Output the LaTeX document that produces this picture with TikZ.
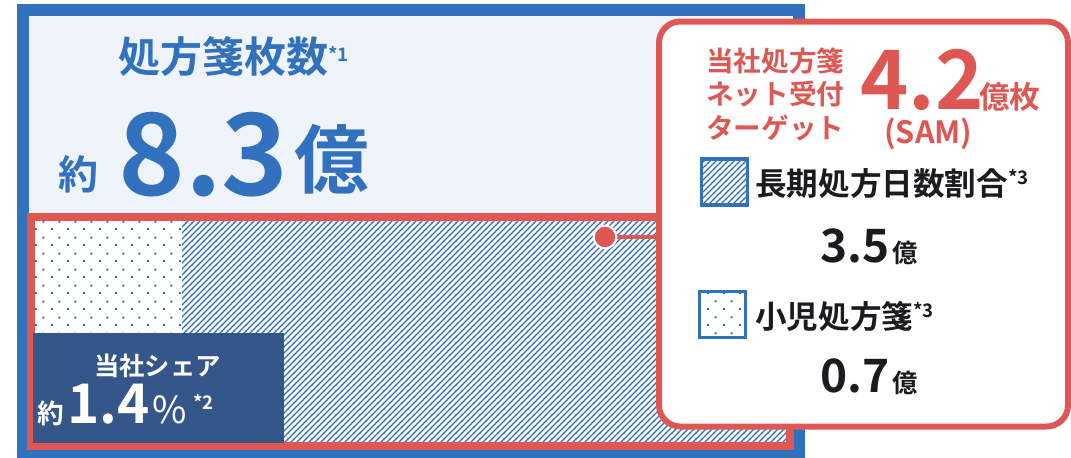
\documentclass[tikz,border=0pt]{standalone}
\usepackage{fontspec}
\setmainfont{Noto Sans CJK JP}[BoldFont={Noto Sans CJK JP Bold}]
\usetikzlibrary{patterns, positioning}

\definecolor{frameBlue}{RGB}{49,113,189}
\definecolor{paleBlue}{RGB}{239,243,250}
\definecolor{samRed}{RGB}{222,87,83}
\definecolor{shareNavy}{RGB}{52,86,136}
\definecolor{inkBlack}{RGB}{27,27,31}

\newcommand{\fsz}[1]{\fontsize{#1}{#1}\selectfont}

\pgfdeclarepatternformonly{hatchlines}{\pgfqpoint{-1pt}{-1pt}}{\pgfqpoint{5.5pt}{5.5pt}}{\pgfqpoint{4.5pt}{4.5pt}}{%
  \pgfsetlinewidth{1.05pt}
  \pgfpathmoveto{\pgfqpoint{-0.1pt}{-0.1pt}}
  \pgfpathlineto{\pgfqpoint{4.6pt}{4.6pt}}
  \pgfusepath{stroke}}
\pgfdeclarepatternformonly{stagdots}{\pgfqpoint{0pt}{0pt}}{\pgfqpoint{12pt}{12pt}}{\pgfqpoint{12pt}{12pt}}{%
  \pgfpathrectangle{\pgfqpoint{2.25pt}{2.25pt}}{\pgfqpoint{1.6pt}{1.6pt}}
  \pgfpathrectangle{\pgfqpoint{8.25pt}{8.25pt}}{\pgfqpoint{1.6pt}{1.6pt}}
  \pgfusepath{fill}}

\begin{document}
\begin{tikzpicture}[x=0.75pt, y=-0.75pt, font=\bfseries,
  numtxt/.style={anchor=base west, inner sep=0pt},
  legendbox/.style={draw=frameBlue, line width=2.5pt, preaction={fill=white}, pattern color=frameBlue, minimum size=34.5pt, inner sep=0pt}]
	\useasboundingbox (0,0) rectangle (1071,457);
	% outer frame and the share block
	\draw[frameBlue, fill=paleBlue, line width=9pt] (23,10) rectangle (799,452);
	\fill[white] (35,221) rectangle (786,442);
	\fill[pattern=hatchlines, pattern color=frameBlue] (35,221) rectangle (786,442);
	\fill[white] (35,221) rectangle (182,333);
	\fill[pattern=stagdots, pattern color=frameBlue] (35,221) rectangle (182,333);
	\draw[samRed, line width=6pt] (31,217) rectangle (790,446);
	\fill[shareNavy] (33,333) rectangle (284,443);
	% callout box
	\node[draw=samRed, fill=white, line width=4.5pt, rounded corners=16pt, minimum width=306.75pt, minimum height=303.75pt, inner sep=0pt] (samBox) at (863.5,224) {};
	\draw[samRed, line width=3pt] (605,237) -- (605,237 -| samBox.west);
	\node[circle, fill=samRed, draw=white, line width=1.5pt, minimum size=17pt, inner sep=0pt] (shareDot) at (605,237) {};
	% texts
	\node[numtxt, text=frameBlue] (rxTitle) at (118,72) {\fsz{31.5}処方箋枚数\raisebox{8pt}{\fsz{14}*1}};
	\node[numtxt, text=frameBlue] (rxAbout) at (58,189) {\fsz{30}約};
	\node[numtxt, text=frameBlue] (rxCount) at (118,195) {\fsz{85}8.3};
	\node[numtxt, text=frameBlue] (rxUnit) at (294,187) {\fsz{56}億};
	\foreach \t [count=\i] in {当社処方箋,ネット受付,ターゲット}
		\node[numtxt, text=samRed] (samLabel\i) at (706,37.5+33.5*\i) {\fsz{20.7}\t};
	\node[numtxt, text=samRed] (samCount) at (860,109) {\fsz{61.5}4.2};
	\node[numtxt, text=samRed] (samUnit) at (979,108) {\fsz{23}億枚};
	\node[numtxt, text=samRed] (samTag) at (884,143) {\fsz{23}(SAM)};
	\node[legendbox, pattern=hatchlines] (keyLong) at (724.5,182) {};
	\node[numtxt, text=inkBlack] (keyLongLabel) at (755,195) {\fsz{23.7}長期処方日数割合\raisebox{8pt}{\fsz{14}*3}};
	\node[numtxt, text=inkBlack] (longCount) at (820,262) {\fsz{34.5}3.5};
	\node[numtxt, text=inkBlack] (longUnit) at ([xshift=2pt]longCount.base east) {\fsz{19}億};
	\node[legendbox, pattern=stagdots] (keyChild) at (722.5,314.5) {};
	\node[numtxt, text=inkBlack] (keyChildLabel) at (755,328) {\fsz{23.7}小児処方箋\raisebox{8pt}{\fsz{14}*3}};
	\node[numtxt, text=inkBlack] (childCount) at (820,392) {\fsz{34.5}0.7};
	\node[numtxt, text=inkBlack] (childUnit) at ([xshift=2pt]childCount.base east) {\fsz{19}億};
	\node[numtxt, text=white] (shareLabel) at (94,375) {\fsz{19}当社シェア};
	\node[numtxt, text=white] (shareAbout) at (37,423) {\fsz{20}約};
	\node[numtxt, text=white] (shareValue) at (67,423) {\fsz{41}1.4};
	\node[numtxt, text=white] (sharePct) at ([xshift=2pt]shareValue.base east) {\fsz{28}\mdseries\%\,\raisebox{10pt}{\bfseries\fsz{14}*2}};
\end{tikzpicture}
\end{document}
